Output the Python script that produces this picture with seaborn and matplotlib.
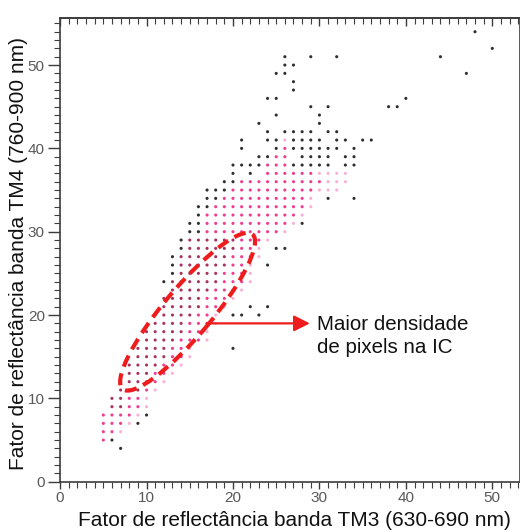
import numpy as np
import pandas as pd
import matplotlib
matplotlib.use("Agg")
import matplotlib.pyplot as plt
import seaborn as sns
from matplotlib.patches import Ellipse
from matplotlib.transforms import IdentityTransform

# ---------------- data (integer grid of TM3 / TM4 values) ----------------
# coloured (density-sliced) cells: per row y, first and last x of the run
row_y = [5, 6, 7, 8, 9, 10, 11, 12, 13, 14, 15, 16, 17, 18, 19, 20, 21, 22, 23, 24, 25,
         26, 27, 28, 29, 30, 31, 32, 33, 34, 35, 36, 37, 38, 39, 40, 41]
row_lo = [5, 5, 5, 5, 6, 6, 7, 7, 8, 8, 9, 9, 10, 10, 11, 11, 12, 12, 13, 13, 14,
          14, 14, 15, 15, 17, 17, 17, 18, 19, 20, 21, 24, 24, 25, 26, 26]
row_hi = [5, 7, 8, 9, 10, 10, 11, 12, 13, 14, 15, 15, 17, 17, 18, 18, 19, 20, 21, 22, 22,
          22, 23, 23, 24, 26, 27, 28, 29, 29, 32, 33, 33, 26, 26, 26, 26]
# highest-density (dark) cells run from row_lo up to row_dark_hi
row_dark_hi = [4, 4, 4, 4, 7, 7, 9, 10, 10, 11, 12, 12, 13, 14, 14, 15, 16, 16, 17, 18, 18,
               19, 19, 20, 20, 16, 16, 16, 17, 18, 19, 20, 23, 23, 24, 25, 25]
# lowest-density (light) cells run from row_light_lo up to row_hi
row_light_lo = [6, 7, 8, 9, 10, 10, 11, 12, 13, 14, 15, 15, 17, 17, 18, 18, 19, 20, 21, 22, 22,
                22, 23, 23, 24, 26, 27, 28, 29, 29, 30, 31, 30, 27, 27, 27, 26]

# isolated (single pixel) cells, drawn in black
black_x = [7, 6, 9, 10, 20, 20, 21, 23, 22, 24, 12, 13, 13, 24, 13, 14, 25, 26, 14,
           15, 16, 15, 16, 28, 16, 16, 17, 17, 18, 31, 34, 17, 18, 19, 19, 20, 20, 22,
           20, 21, 22, 23, 27, 28, 29, 30, 31, 33, 34,
           23, 24, 28, 29, 30, 31, 33, 34,
           21, 25, 27, 28, 29, 30, 31, 32, 34,
           21, 24, 25, 27, 28, 29, 30, 32, 33, 35, 36,
           24, 26, 27, 28, 29, 31, 32,
           23, 30, 25, 30, 29, 31, 38, 39, 24, 25, 40, 27, 27, 25, 26, 47,
           26, 27, 26, 29, 32, 44, 50, 48]
black_y = [4, 5, 7, 8, 16, 20, 20, 20, 21, 21, 24, 25, 26, 26, 27, 28, 28, 28, 29,
           30, 30, 31, 31, 31, 32, 33, 33, 34, 34, 34, 34, 35, 35, 35, 36, 36, 37, 37,
           38, 38, 38, 38, 38, 38, 38, 38, 38, 38, 38,
           39, 39, 39, 39, 39, 39, 39, 39,
           40, 40, 40, 40, 40, 40, 40, 40, 40,
           41, 41, 41, 41, 41, 41, 41, 41, 41, 41, 41,
           42, 42, 42, 42, 42, 42, 42,
           43, 43, 44, 44, 45, 45, 45, 45, 46, 46, 46, 47, 48, 49, 49, 49,
           50, 50, 51, 51, 51, 51, 52, 54]

x_ticks = [0, 10, 20, 30, 40, 50]
y_ticks = [0, 10, 20, 30, 40, 50]
x_label = "Fator de reflectância banda TM3 (630-690 nm)"
y_label = "Fator de reflectância banda TM4 (760-900 nm)"
note = "Maior densidade\nde pixels na IC"

# ---------------- build table ----------------
recs = []
for y, lo, hi, dh, ll in zip(row_y, row_lo, row_hi, row_dark_hi, row_light_lo):
    for x in range(lo, hi + 1):
        cat = "dark" if x <= dh else ("light" if x >= ll else "pink")
        recs.append((x, y, cat))
for x, y in zip(black_x, black_y):
    recs.append((x, y, "black"))
df = pd.DataFrame(recs, columns=["x", "y", "cat"])

palette = {"black": "#2f2f2f", "dark": "#a8325e", "pink": "#f23a8f", "light": "#f9b0d6"}

# ---------------- figure ----------------
sns.set_style("white")
plt.rcParams["font.family"] = ["Liberation Sans", "DejaVu Sans"]

W, H = 520, 532
fig = plt.figure(figsize=(W / 100, H / 100), dpi=100)
x0_px, x1_px = 60.1, 520.0
y_bot_px, y_top_px = 481.7, 17.7
ax = fig.add_axes([x0_px / W, (H - y_bot_px) / H, (x1_px - x0_px) / W, (y_bot_px - y_top_px) / H])

sns.scatterplot(data=df, x="x", y="y", hue="cat", palette=palette, s=5, linewidth=0,
                legend=False, ax=ax, zorder=3)

ax.set_xlim(0, (x1_px - x0_px) / 8.644)
ax.set_ylim(0, (y_bot_px - y_top_px) / 8.333)

spine_c = "#3c3c3c"
for s in ax.spines.values():
    s.set_color(spine_c)
    s.set_linewidth(1.2)

ax.set_xticks(x_ticks)
ax.set_xticks(np.arange(0, 54), minor=True)
ax.set_yticks(y_ticks)
ax.set_yticks(np.arange(0, 56), minor=True)
ax.tick_params(axis="x", which="major", direction="out", length=5, width=1, color=spine_c,
               labelsize=11, labelcolor="#595959", pad=1.5, bottom=True, top=False)
ax.tick_params(axis="x", which="minor", direction="out", length=4, width=0.8, color=spine_c,
               bottom=True, top=False)
ax.tick_params(axis="y", which="major", direction="out", length=9, width=1, color=spine_c,
               labelsize=11, labelcolor="#595959", pad=2, left=True, right=False)
ax.tick_params(axis="y", which="minor", direction="out", length=4, width=0.8, color=spine_c,
               left=True, right=False)

sec = ax.secondary_xaxis("top")
sec.set_xticks(x_ticks)
sec.set_xticks(np.arange(0, 54), minor=True)
sec.tick_params(axis="x", which="major", direction="in", length=6, width=1, color=spine_c,
                top=True, labeltop=False)
sec.tick_params(axis="x", which="minor", direction="in", length=4, width=0.8, color=spine_c, top=True)
sec.spines["top"].set_color(spine_c)
sec.spines["top"].set_linewidth(1.2)

ax.set_xlabel(x_label, fontsize=15, color="#111111")
ax.set_ylabel(y_label, fontsize=15, color="#111111")
ax.xaxis.set_label_coords((294 - x0_px) / (x1_px - x0_px), (y_bot_px - 521) / (y_bot_px - y_top_px))
ax.xaxis.label.set_va("center")
ax.yaxis.set_label_coords((19 - x0_px) / (x1_px - x0_px), (y_bot_px - 254) / (y_bot_px - y_top_px))
ax.yaxis.label.set_va("center")

# dashed ellipse around the dense core (drawn in pixel space)
cx, cy = ax.transData.transform((14.75, 20.4))
ell = Ellipse((cx, cy), width=202, height=48, angle=50, transform=IdentityTransform(),
              fill=False, ec="#ee1c1c", lw=3.0, ls=(0, (2.9, 1.7)), zorder=5)
ax.add_patch(ell)

ax.annotate("", xy=(28.9, 19.0), xytext=(16.96, 19.0),
            arrowprops=dict(arrowstyle="-|>,head_length=0.8,head_width=0.4", color="#ee1c1c",
                            lw=1.6, shrinkA=0, shrinkB=0, mutation_scale=12), zorder=5)
ax.text(29.7, 17.5, note, fontsize=14.8, color="#111111", ha="left", va="center",
        linespacing=1.25, zorder=6)

fig.savefig("out.png", dpi=100)
